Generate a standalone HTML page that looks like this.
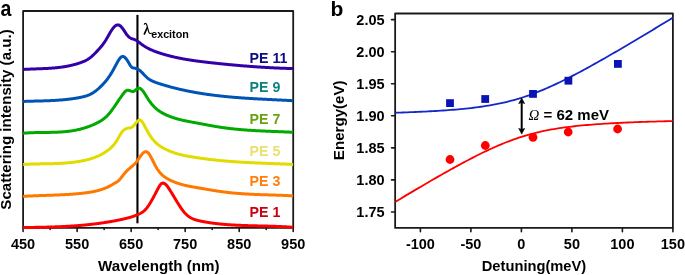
<!DOCTYPE html>
<html><head><meta charset="utf-8"><style>
html,body{margin:0;padding:0;background:#fff;width:685px;height:275px;overflow:hidden}
svg{position:absolute;left:0;top:0;will-change:transform}
text{font-family:"Liberation Sans",sans-serif;font-weight:bold}
</style></head><body>
<svg width="685" height="275" viewBox="0 0 685 275" xmlns="http://www.w3.org/2000/svg">
<defs><clipPath id="cl"><rect x="23.10" y="0.00" width="270.10" height="275.00"/></clipPath>
<clipPath id="cr"><rect x="395.15" y="0.00" width="277.75" height="275.00"/></clipPath></defs>

<rect x="23.10" y="11.00" width="270.10" height="216.90" fill="none" stroke="#1a1a1a" stroke-width="1.8" stroke-linejoin="round"/>
<path d="M23.10,227.90 V231.50 M50.11,227.90 V229.50 M77.12,227.90 V231.50 M104.13,227.90 V229.50 M131.14,227.90 V231.50 M158.15,227.90 V229.50 M185.16,227.90 V231.50 M212.17,227.90 V229.50 M239.18,227.90 V231.50 M266.19,227.90 V229.50 M293.20,227.90 V231.50" stroke="#1a1a1a" stroke-width="1.6" stroke-linecap="round" fill="none"/>
<text x="23.10" y="249.2" font-size="14.5" text-anchor="middle">450</text>
<text x="77.12" y="249.2" font-size="14.5" text-anchor="middle">550</text>
<text x="131.14" y="249.2" font-size="14.5" text-anchor="middle">650</text>
<text x="185.16" y="249.2" font-size="14.5" text-anchor="middle">750</text>
<text x="239.18" y="249.2" font-size="14.5" text-anchor="middle">850</text>
<text x="293.20" y="249.2" font-size="14.5" text-anchor="middle">950</text>
<line x1="137.45" y1="14.9" x2="137.45" y2="223.3" stroke="#000" stroke-width="2.1"/>
<g clip-path="url(#cl)" fill="none" stroke-width="3.0" stroke-linejoin="round">
<path d="M22.60,69.46 L23.10,69.45 L23.60,69.42 L24.10,69.39 L24.60,69.37 L25.10,69.34 L25.60,69.31 L26.10,69.29 L26.60,69.26 L27.10,69.24 L27.60,69.21 L28.10,69.19 L28.60,69.17 L29.10,69.15 L29.60,69.13 L30.10,69.10 L30.60,69.08 L31.10,69.07 L31.60,69.05 L32.10,69.03 L32.60,69.01 L33.10,68.99 L33.60,68.97 L34.10,68.95 L34.60,68.94 L35.10,68.92 L35.60,68.90 L36.10,68.88 L36.60,68.87 L37.10,68.85 L37.60,68.83 L38.10,68.82 L38.60,68.80 L39.10,68.78 L39.60,68.76 L40.10,68.74 L40.60,68.72 L41.10,68.70 L41.60,68.69 L42.10,68.67 L42.60,68.64 L43.10,68.62 L43.60,68.60 L44.10,68.58 L44.60,68.56 L45.10,68.53 L45.60,68.51 L46.10,68.49 L46.60,68.46 L47.10,68.43 L47.60,68.41 L48.10,68.38 L48.60,68.35 L49.10,68.32 L49.60,68.29 L50.10,68.25 L50.60,68.22 L51.10,68.19 L51.60,68.15 L52.10,68.11 L52.60,68.07 L53.10,68.03 L53.60,67.99 L54.10,67.95 L54.60,67.91 L55.10,67.86 L55.60,67.81 L56.10,67.77 L56.60,67.72 L57.10,67.66 L57.60,67.61 L58.10,67.56 L58.60,67.50 L59.10,67.44 L59.60,67.38 L60.10,67.32 L60.60,67.25 L61.10,67.19 L61.60,67.12 L62.10,67.05 L62.60,66.98 L63.10,66.90 L63.60,66.82 L64.10,66.74 L64.60,66.66 L65.10,66.58 L65.60,66.49 L66.10,66.41 L66.60,66.32 L67.10,66.22 L67.60,66.13 L68.10,66.03 L68.60,65.93 L69.10,65.83 L69.60,65.72 L70.10,65.61 L70.60,65.50 L71.10,65.39 L71.60,65.27 L72.10,65.15 L72.60,65.03 L73.10,64.90 L73.60,64.77 L74.10,64.64 L74.60,64.51 L75.10,64.37 L75.60,64.23 L76.10,64.09 L76.60,63.94 L77.10,63.79 L77.60,63.63 L78.10,63.48 L78.60,63.32 L79.10,63.15 L79.60,62.99 L80.10,62.82 L80.60,62.64 L81.10,62.46 L81.60,62.28 L82.10,62.09 L82.60,61.89 L83.10,61.69 L83.60,61.48 L84.10,61.26 L84.60,61.04 L85.10,60.80 L85.60,60.55 L86.10,60.30 L86.60,60.03 L87.10,59.74 L87.60,59.45 L88.10,59.14 L88.60,58.82 L89.10,58.48 L89.60,58.13 L90.10,57.76 L90.60,57.37 L91.10,56.97 L91.60,56.55 L92.10,56.11 L92.60,55.66 L93.10,55.19 L93.60,54.72 L94.10,54.23 L94.60,53.73 L95.10,53.22 L95.60,52.70 L96.10,52.18 L96.60,51.66 L97.10,51.13 L97.60,50.60 L98.10,50.06 L98.60,49.52 L99.10,48.97 L99.60,48.42 L100.10,47.85 L100.60,47.27 L101.10,46.68 L101.60,46.07 L102.10,45.45 L102.60,44.81 L103.10,44.15 L103.60,43.47 L104.10,42.76 L104.60,42.03 L105.10,41.27 L105.60,40.49 L106.10,39.68 L106.60,38.84 L107.10,37.97 L107.60,37.09 L108.10,36.20 L108.60,35.31 L109.10,34.42 L109.60,33.54 L110.10,32.68 L110.60,31.84 L111.10,31.03 L111.60,30.25 L112.10,29.51 L112.60,28.80 L113.10,28.15 L113.60,27.54 L114.10,26.98 L114.60,26.48 L115.10,26.04 L115.60,25.66 L116.10,25.35 L116.60,25.12 L117.10,24.96 L117.60,24.88 L118.10,24.89 L118.60,24.98 L119.10,25.17 L119.60,25.43 L120.10,25.77 L120.60,26.19 L121.10,26.67 L121.60,27.22 L122.10,27.82 L122.60,28.47 L123.10,29.17 L123.60,29.90 L124.10,30.64 L124.60,31.40 L125.10,32.15 L125.60,32.90 L126.10,33.62 L126.60,34.32 L127.10,34.98 L127.60,35.59 L128.10,36.14 L128.60,36.64 L129.10,37.07 L129.60,37.45 L130.10,37.78 L130.60,38.07 L131.10,38.32 L131.60,38.54 L132.10,38.74 L132.60,38.92 L133.10,39.08 L133.60,39.24 L134.10,39.40 L134.60,39.57 L135.10,39.77 L135.60,39.99 L136.10,40.24 L136.60,40.53 L137.10,40.86 L137.60,41.21 L138.10,41.59 L138.60,41.98 L139.10,42.37 L139.60,42.77 L140.10,43.17 L140.60,43.55 L141.10,43.93 L141.60,44.30 L142.10,44.65 L142.60,45.00 L143.10,45.34 L143.60,45.68 L144.10,46.00 L144.60,46.32 L145.10,46.62 L145.60,46.92 L146.10,47.22 L146.60,47.50 L147.10,47.78 L147.60,48.05 L148.10,48.32 L148.60,48.58 L149.10,48.83 L149.60,49.08 L150.10,49.32 L150.60,49.55 L151.10,49.78 L151.60,50.00 L152.10,50.22 L152.60,50.44 L153.10,50.64 L153.60,50.85 L154.10,51.05 L154.60,51.24 L155.10,51.44 L155.60,51.62 L156.10,51.81 L156.60,51.99 L157.10,52.17 L157.60,52.34 L158.10,52.51 L158.60,52.68 L159.10,52.85 L159.60,53.02 L160.10,53.18 L160.60,53.34 L161.10,53.50 L161.60,53.65 L162.10,53.81 L162.60,53.96 L163.10,54.11 L163.60,54.26 L164.10,54.41 L164.60,54.56 L165.10,54.70 L165.60,54.84 L166.10,54.98 L166.60,55.12 L167.10,55.26 L167.60,55.39 L168.10,55.53 L168.60,55.66 L169.10,55.79 L169.60,55.92 L170.10,56.05 L170.60,56.17 L171.10,56.30 L171.60,56.42 L172.10,56.54 L172.60,56.66 L173.10,56.78 L173.60,56.90 L174.10,57.01 L174.60,57.12 L175.10,57.24 L175.60,57.35 L176.10,57.46 L176.60,57.57 L177.10,57.67 L177.60,57.78 L178.10,57.88 L178.60,57.99 L179.10,58.09 L179.60,58.19 L180.10,58.29 L180.60,58.39 L181.10,58.48 L181.60,58.58 L182.10,58.67 L182.60,58.77 L183.10,58.86 L183.60,58.95 L184.10,59.04 L184.60,59.13 L185.10,59.22 L185.60,59.30 L186.10,59.39 L186.60,59.47 L187.10,59.56 L187.60,59.64 L188.10,59.72 L188.60,59.80 L189.10,59.88 L189.60,59.96 L190.10,60.04 L190.60,60.11 L191.10,60.19 L191.60,60.27 L192.10,60.34 L192.60,60.41 L193.10,60.49 L193.60,60.56 L194.10,60.63 L194.60,60.70 L195.10,60.77 L195.60,60.84 L196.10,60.91 L196.60,60.98 L197.10,61.04 L197.60,61.11 L198.10,61.18 L198.60,61.24 L199.10,61.31 L199.60,61.37 L200.10,61.43 L200.60,61.50 L201.10,61.56 L201.60,61.62 L202.10,61.68 L202.60,61.74 L203.10,61.81 L203.60,61.87 L204.10,61.93 L204.60,61.98 L205.10,62.04 L205.60,62.10 L206.10,62.16 L206.60,62.22 L207.10,62.28 L207.60,62.33 L208.10,62.39 L208.60,62.45 L209.10,62.50 L209.60,62.56 L210.10,62.62 L210.60,62.67 L211.10,62.73 L211.60,62.78 L212.10,62.84 L212.60,62.89 L213.10,62.95 L213.60,63.00 L214.10,63.06 L214.60,63.11 L215.10,63.17 L215.60,63.22 L216.10,63.27 L216.60,63.33 L217.10,63.38 L217.60,63.43 L218.10,63.49 L218.60,63.54 L219.10,63.59 L219.60,63.64 L220.10,63.69 L220.60,63.75 L221.10,63.80 L221.60,63.85 L222.10,63.90 L222.60,63.95 L223.10,64.00 L223.60,64.05 L224.10,64.10 L224.60,64.15 L225.10,64.20 L225.60,64.25 L226.10,64.30 L226.60,64.35 L227.10,64.40 L227.60,64.45 L228.10,64.50 L228.60,64.54 L229.10,64.59 L229.60,64.64 L230.10,64.69 L230.60,64.73 L231.10,64.78 L231.60,64.83 L232.10,64.87 L232.60,64.92 L233.10,64.97 L233.60,65.01 L234.10,65.06 L234.60,65.10 L235.10,65.15 L235.60,65.19 L236.10,65.24 L236.60,65.28 L237.10,65.33 L237.60,65.37 L238.10,65.42 L238.60,65.46 L239.10,65.50 L239.60,65.54 L240.10,65.59 L240.60,65.63 L241.10,65.67 L241.60,65.71 L242.10,65.76 L242.60,65.80 L243.10,65.84 L243.60,65.88 L244.10,65.92 L244.60,65.96 L245.10,66.00 L245.60,66.04 L246.10,66.08 L246.60,66.12 L247.10,66.16 L247.60,66.20 L248.10,66.24 L248.60,66.28 L249.10,66.31 L249.60,66.35 L250.10,66.39 L250.60,66.43 L251.10,66.46 L251.60,66.50 L252.10,66.54 L252.60,66.57 L253.10,66.61 L253.60,66.65 L254.10,66.68 L254.60,66.72 L255.10,66.75 L255.60,66.79 L256.10,66.82 L256.60,66.86 L257.10,66.89 L257.60,66.92 L258.10,66.96 L258.60,66.99 L259.10,67.02 L259.60,67.06 L260.10,67.09 L260.60,67.12 L261.10,67.15 L261.60,67.18 L262.10,67.21 L262.60,67.25 L263.10,67.28 L263.60,67.31 L264.10,67.34 L264.60,67.37 L265.10,67.40 L265.60,67.43 L266.10,67.45 L266.60,67.48 L267.10,67.51 L267.60,67.54 L268.10,67.57 L268.60,67.59 L269.10,67.62 L269.60,67.65 L270.10,67.68 L270.60,67.70 L271.10,67.73 L271.60,67.75 L272.10,67.78 L272.60,67.80 L273.10,67.83 L273.60,67.85 L274.10,67.88 L274.60,67.90 L275.10,67.93 L275.60,67.95 L276.10,67.97 L276.60,68.00 L277.10,68.02 L277.60,68.04 L278.10,68.06 L278.60,68.08 L279.10,68.10 L279.60,68.13 L280.10,68.15 L280.60,68.17 L281.10,68.19 L281.60,68.21 L282.10,68.23 L282.60,68.25 L283.10,68.26 L283.60,68.28 L284.10,68.30 L284.60,68.32 L285.10,68.34 L285.60,68.35 L286.10,68.37 L286.60,68.39 L287.10,68.40 L287.60,68.42 L288.10,68.43 L288.60,68.45 L289.10,68.47 L289.60,68.48 L290.10,68.49 L290.60,68.51 L291.10,68.52 L291.60,68.54 L292.10,68.55 L292.60,68.56 L293.10,68.57 L293.60,68.58" stroke="#3300aa"/>
<path d="M22.60,101.47 L23.10,101.47 L23.60,101.45 L24.10,101.43 L24.60,101.41 L25.10,101.39 L25.60,101.37 L26.10,101.36 L26.60,101.34 L27.10,101.32 L27.60,101.31 L28.10,101.29 L28.60,101.28 L29.10,101.26 L29.60,101.25 L30.10,101.23 L30.60,101.22 L31.10,101.20 L31.60,101.19 L32.10,101.18 L32.60,101.16 L33.10,101.15 L33.60,101.14 L34.10,101.12 L34.60,101.11 L35.10,101.10 L35.60,101.09 L36.10,101.07 L36.60,101.06 L37.10,101.05 L37.60,101.03 L38.10,101.02 L38.60,101.01 L39.10,100.99 L39.60,100.98 L40.10,100.97 L40.60,100.95 L41.10,100.94 L41.60,100.93 L42.10,100.91 L42.60,100.90 L43.10,100.88 L43.60,100.87 L44.10,100.85 L44.60,100.84 L45.10,100.82 L45.60,100.80 L46.10,100.79 L46.60,100.77 L47.10,100.75 L47.60,100.73 L48.10,100.71 L48.60,100.69 L49.10,100.67 L49.60,100.65 L50.10,100.63 L50.60,100.61 L51.10,100.59 L51.60,100.57 L52.10,100.54 L52.60,100.52 L53.10,100.49 L53.60,100.47 L54.10,100.44 L54.60,100.41 L55.10,100.38 L55.60,100.35 L56.10,100.32 L56.60,100.29 L57.10,100.26 L57.60,100.23 L58.10,100.19 L58.60,100.16 L59.10,100.12 L59.60,100.09 L60.10,100.05 L60.60,100.01 L61.10,99.97 L61.60,99.93 L62.10,99.89 L62.60,99.85 L63.10,99.80 L63.60,99.76 L64.10,99.71 L64.60,99.66 L65.10,99.61 L65.60,99.56 L66.10,99.51 L66.60,99.46 L67.10,99.40 L67.60,99.35 L68.10,99.29 L68.60,99.23 L69.10,99.17 L69.60,99.11 L70.10,99.04 L70.60,98.98 L71.10,98.91 L71.60,98.85 L72.10,98.78 L72.60,98.71 L73.10,98.63 L73.60,98.56 L74.10,98.48 L74.60,98.41 L75.10,98.33 L75.60,98.25 L76.10,98.17 L76.60,98.08 L77.10,98.00 L77.60,97.91 L78.10,97.82 L78.60,97.73 L79.10,97.63 L79.60,97.54 L80.10,97.44 L80.60,97.34 L81.10,97.24 L81.60,97.13 L82.10,97.03 L82.60,96.91 L83.10,96.80 L83.60,96.68 L84.10,96.55 L84.60,96.41 L85.10,96.27 L85.60,96.13 L86.10,95.97 L86.60,95.81 L87.10,95.64 L87.60,95.46 L88.10,95.27 L88.60,95.07 L89.10,94.86 L89.60,94.63 L90.10,94.40 L90.60,94.16 L91.10,93.90 L91.60,93.63 L92.10,93.34 L92.60,93.04 L93.10,92.73 L93.60,92.41 L94.10,92.07 L94.60,91.72 L95.10,91.36 L95.60,90.99 L96.10,90.60 L96.60,90.20 L97.10,89.79 L97.60,89.38 L98.10,88.95 L98.60,88.51 L99.10,88.05 L99.60,87.59 L100.10,87.12 L100.60,86.65 L101.10,86.16 L101.60,85.66 L102.10,85.15 L102.60,84.64 L103.10,84.12 L103.60,83.58 L104.10,83.04 L104.60,82.48 L105.10,81.91 L105.60,81.32 L106.10,80.72 L106.60,80.10 L107.10,79.46 L107.60,78.80 L108.10,78.13 L108.60,77.43 L109.10,76.71 L109.60,75.96 L110.10,75.19 L110.60,74.40 L111.10,73.59 L111.60,72.75 L112.10,71.90 L112.60,71.03 L113.10,70.15 L113.60,69.25 L114.10,68.34 L114.60,67.42 L115.10,66.49 L115.60,65.55 L116.10,64.60 L116.60,63.67 L117.10,62.74 L117.60,61.84 L118.10,60.98 L118.60,60.16 L119.10,59.40 L119.60,58.70 L120.10,58.08 L120.60,57.54 L121.10,57.09 L121.60,56.75 L122.10,56.52 L122.60,56.42 L123.10,56.45 L123.60,56.59 L124.10,56.84 L124.60,57.20 L125.10,57.64 L125.60,58.17 L126.10,58.77 L126.60,59.44 L127.10,60.17 L127.60,60.94 L128.10,61.75 L128.60,62.59 L129.10,63.45 L129.60,64.30 L130.10,65.12 L130.60,65.87 L131.10,66.53 L131.60,67.08 L132.10,67.49 L132.60,67.75 L133.10,67.90 L133.60,67.98 L134.10,68.05 L134.60,68.14 L135.10,68.24 L135.60,68.36 L136.10,68.51 L136.60,68.68 L137.10,68.88 L137.60,69.11 L138.10,69.37 L138.60,69.66 L139.10,69.98 L139.60,70.33 L140.10,70.73 L140.60,71.15 L141.10,71.61 L141.60,72.10 L142.10,72.60 L142.60,73.12 L143.10,73.65 L143.60,74.19 L144.10,74.73 L144.60,75.26 L145.10,75.78 L145.60,76.28 L146.10,76.77 L146.60,77.23 L147.10,77.66 L147.60,78.08 L148.10,78.47 L148.60,78.84 L149.10,79.19 L149.60,79.52 L150.10,79.83 L150.60,80.13 L151.10,80.41 L151.60,80.68 L152.10,80.93 L152.60,81.17 L153.10,81.40 L153.60,81.62 L154.10,81.83 L154.60,82.02 L155.10,82.21 L155.60,82.40 L156.10,82.57 L156.60,82.75 L157.10,82.92 L157.60,83.08 L158.10,83.24 L158.60,83.41 L159.10,83.57 L159.60,83.73 L160.10,83.89 L160.60,84.04 L161.10,84.20 L161.60,84.36 L162.10,84.51 L162.60,84.66 L163.10,84.82 L163.60,84.97 L164.10,85.12 L164.60,85.26 L165.10,85.41 L165.60,85.56 L166.10,85.70 L166.60,85.85 L167.10,85.99 L167.60,86.13 L168.10,86.27 L168.60,86.41 L169.10,86.55 L169.60,86.69 L170.10,86.83 L170.60,86.96 L171.10,87.10 L171.60,87.23 L172.10,87.36 L172.60,87.49 L173.10,87.62 L173.60,87.75 L174.10,87.88 L174.60,88.01 L175.10,88.13 L175.60,88.26 L176.10,88.38 L176.60,88.51 L177.10,88.63 L177.60,88.75 L178.10,88.87 L178.60,88.99 L179.10,89.11 L179.60,89.22 L180.10,89.34 L180.60,89.46 L181.10,89.57 L181.60,89.68 L182.10,89.80 L182.60,89.91 L183.10,90.02 L183.60,90.13 L184.10,90.24 L184.60,90.34 L185.10,90.45 L185.60,90.56 L186.10,90.66 L186.60,90.77 L187.10,90.87 L187.60,90.97 L188.10,91.07 L188.60,91.17 L189.10,91.27 L189.60,91.37 L190.10,91.47 L190.60,91.57 L191.10,91.66 L191.60,91.76 L192.10,91.85 L192.60,91.95 L193.10,92.04 L193.60,92.13 L194.10,92.22 L194.60,92.31 L195.10,92.40 L195.60,92.49 L196.10,92.58 L196.60,92.67 L197.10,92.75 L197.60,92.84 L198.10,92.93 L198.60,93.01 L199.10,93.09 L199.60,93.17 L200.10,93.26 L200.60,93.34 L201.10,93.42 L201.60,93.50 L202.10,93.58 L202.60,93.65 L203.10,93.73 L203.60,93.81 L204.10,93.88 L204.60,93.96 L205.10,94.03 L205.60,94.11 L206.10,94.18 L206.60,94.25 L207.10,94.32 L207.60,94.40 L208.10,94.47 L208.60,94.53 L209.10,94.60 L209.60,94.67 L210.10,94.74 L210.60,94.81 L211.10,94.87 L211.60,94.94 L212.10,95.00 L212.60,95.07 L213.10,95.13 L213.60,95.19 L214.10,95.26 L214.60,95.32 L215.10,95.38 L215.60,95.44 L216.10,95.50 L216.60,95.56 L217.10,95.62 L217.60,95.68 L218.10,95.73 L218.60,95.79 L219.10,95.85 L219.60,95.90 L220.10,95.96 L220.60,96.01 L221.10,96.07 L221.60,96.12 L222.10,96.18 L222.60,96.23 L223.10,96.28 L223.60,96.33 L224.10,96.38 L224.60,96.43 L225.10,96.48 L225.60,96.53 L226.10,96.58 L226.60,96.63 L227.10,96.68 L227.60,96.73 L228.10,96.77 L228.60,96.82 L229.10,96.87 L229.60,96.91 L230.10,96.96 L230.60,97.00 L231.10,97.05 L231.60,97.09 L232.10,97.13 L232.60,97.18 L233.10,97.22 L233.60,97.26 L234.10,97.30 L234.60,97.34 L235.10,97.39 L235.60,97.43 L236.10,97.47 L236.60,97.51 L237.10,97.55 L237.60,97.58 L238.10,97.62 L238.60,97.66 L239.10,97.70 L239.60,97.74 L240.10,97.77 L240.60,97.81 L241.10,97.85 L241.60,97.88 L242.10,97.92 L242.60,97.95 L243.10,97.99 L243.60,98.02 L244.10,98.06 L244.60,98.09 L245.10,98.13 L245.60,98.16 L246.10,98.19 L246.60,98.23 L247.10,98.26 L247.60,98.29 L248.10,98.32 L248.60,98.35 L249.10,98.39 L249.60,98.42 L250.10,98.45 L250.60,98.48 L251.10,98.51 L251.60,98.54 L252.10,98.57 L252.60,98.60 L253.10,98.63 L253.60,98.66 L254.10,98.69 L254.60,98.72 L255.10,98.75 L255.60,98.77 L256.10,98.80 L256.60,98.83 L257.10,98.86 L257.60,98.89 L258.10,98.91 L258.60,98.94 L259.10,98.97 L259.60,99.00 L260.10,99.02 L260.60,99.05 L261.10,99.08 L261.60,99.10 L262.10,99.13 L262.60,99.15 L263.10,99.18 L263.60,99.21 L264.10,99.23 L264.60,99.26 L265.10,99.28 L265.60,99.31 L266.10,99.33 L266.60,99.36 L267.10,99.39 L267.60,99.41 L268.10,99.44 L268.60,99.46 L269.10,99.49 L269.60,99.51 L270.10,99.54 L270.60,99.56 L271.10,99.59 L271.60,99.61 L272.10,99.63 L272.60,99.66 L273.10,99.68 L273.60,99.71 L274.10,99.73 L274.60,99.76 L275.10,99.78 L275.60,99.81 L276.10,99.83 L276.60,99.86 L277.10,99.88 L277.60,99.91 L278.10,99.93 L278.60,99.96 L279.10,99.98 L279.60,100.00 L280.10,100.03 L280.60,100.05 L281.10,100.08 L281.60,100.10 L282.10,100.13 L282.60,100.15 L283.10,100.18 L283.60,100.21 L284.10,100.23 L284.60,100.26 L285.10,100.28 L285.60,100.31 L286.10,100.33 L286.60,100.36 L287.10,100.38 L287.60,100.41 L288.10,100.44 L288.60,100.46 L289.10,100.49 L289.60,100.52 L290.10,100.54 L290.60,100.57 L291.10,100.60 L291.60,100.63 L292.10,100.65 L292.60,100.68 L293.10,100.71 L293.60,100.71" stroke="#0055b4"/>
<path d="M22.60,133.24 L23.10,133.23 L23.60,133.19 L24.10,133.14 L24.60,133.10 L25.10,133.07 L25.60,133.03 L26.10,133.00 L26.60,132.96 L27.10,132.93 L27.60,132.90 L28.10,132.88 L28.60,132.85 L29.10,132.82 L29.60,132.80 L30.10,132.78 L30.60,132.75 L31.10,132.73 L31.60,132.71 L32.10,132.70 L32.60,132.68 L33.10,132.66 L33.60,132.65 L34.10,132.63 L34.60,132.62 L35.10,132.61 L35.60,132.59 L36.10,132.58 L36.60,132.57 L37.10,132.56 L37.60,132.55 L38.10,132.54 L38.60,132.54 L39.10,132.53 L39.60,132.52 L40.10,132.51 L40.60,132.51 L41.10,132.50 L41.60,132.49 L42.10,132.49 L42.60,132.48 L43.10,132.48 L43.60,132.47 L44.10,132.47 L44.60,132.46 L45.10,132.45 L45.60,132.45 L46.10,132.44 L46.60,132.44 L47.10,132.43 L47.60,132.42 L48.10,132.42 L48.60,132.41 L49.10,132.40 L49.60,132.39 L50.10,132.38 L50.60,132.37 L51.10,132.36 L51.60,132.35 L52.10,132.34 L52.60,132.33 L53.10,132.31 L53.60,132.30 L54.10,132.29 L54.60,132.27 L55.10,132.25 L55.60,132.24 L56.10,132.22 L56.60,132.20 L57.10,132.18 L57.60,132.15 L58.10,132.13 L58.60,132.11 L59.10,132.08 L59.60,132.05 L60.10,132.02 L60.60,131.99 L61.10,131.96 L61.60,131.93 L62.10,131.89 L62.60,131.86 L63.10,131.82 L63.60,131.78 L64.10,131.74 L64.60,131.69 L65.10,131.65 L65.60,131.60 L66.10,131.55 L66.60,131.50 L67.10,131.44 L67.60,131.39 L68.10,131.33 L68.60,131.27 L69.10,131.21 L69.60,131.15 L70.10,131.08 L70.60,131.01 L71.10,130.94 L71.60,130.87 L72.10,130.79 L72.60,130.71 L73.10,130.63 L73.60,130.54 L74.10,130.46 L74.60,130.37 L75.10,130.28 L75.60,130.18 L76.10,130.08 L76.60,129.98 L77.10,129.88 L77.60,129.77 L78.10,129.66 L78.60,129.55 L79.10,129.43 L79.60,129.32 L80.10,129.19 L80.60,129.07 L81.10,128.94 L81.60,128.81 L82.10,128.67 L82.60,128.53 L83.10,128.39 L83.60,128.25 L84.10,128.10 L84.60,127.94 L85.10,127.79 L85.60,127.63 L86.10,127.46 L86.60,127.30 L87.10,127.13 L87.60,126.95 L88.10,126.77 L88.60,126.59 L89.10,126.41 L89.60,126.22 L90.10,126.02 L90.60,125.83 L91.10,125.63 L91.60,125.42 L92.10,125.22 L92.60,125.00 L93.10,124.79 L93.60,124.57 L94.10,124.35 L94.60,124.12 L95.10,123.89 L95.60,123.65 L96.10,123.42 L96.60,123.17 L97.10,122.93 L97.60,122.67 L98.10,122.41 L98.60,122.15 L99.10,121.87 L99.60,121.59 L100.10,121.30 L100.60,121.00 L101.10,120.69 L101.60,120.37 L102.10,120.03 L102.60,119.68 L103.10,119.32 L103.60,118.94 L104.10,118.55 L104.60,118.15 L105.10,117.72 L105.60,117.28 L106.10,116.83 L106.60,116.35 L107.10,115.85 L107.60,115.34 L108.10,114.80 L108.60,114.24 L109.10,113.66 L109.60,113.07 L110.10,112.45 L110.60,111.82 L111.10,111.17 L111.60,110.51 L112.10,109.84 L112.60,109.15 L113.10,108.46 L113.60,107.75 L114.10,107.03 L114.60,106.31 L115.10,105.58 L115.60,104.85 L116.10,104.11 L116.60,103.37 L117.10,102.63 L117.60,101.89 L118.10,101.15 L118.60,100.41 L119.10,99.67 L119.60,98.94 L120.10,98.21 L120.60,97.49 L121.10,96.77 L121.60,96.07 L122.10,95.37 L122.60,94.69 L123.10,94.02 L123.60,93.36 L124.10,92.73 L124.60,92.13 L125.10,91.59 L125.60,91.12 L126.10,90.73 L126.60,90.45 L127.10,90.28 L127.60,90.22 L128.10,90.25 L128.60,90.34 L129.10,90.48 L129.60,90.65 L130.10,90.83 L130.60,91.00 L131.10,91.17 L131.60,91.31 L132.10,91.41 L132.60,91.45 L133.10,91.43 L133.60,91.32 L134.10,91.12 L134.60,90.81 L135.10,90.44 L135.60,90.02 L136.10,89.58 L136.60,89.15 L137.10,88.76 L137.60,88.45 L138.10,88.22 L138.60,88.11 L139.10,88.11 L139.60,88.22 L140.10,88.42 L140.60,88.71 L141.10,89.09 L141.60,89.54 L142.10,90.06 L142.60,90.64 L143.10,91.28 L143.60,91.97 L144.10,92.70 L144.60,93.46 L145.10,94.25 L145.60,95.06 L146.10,95.87 L146.60,96.69 L147.10,97.51 L147.60,98.31 L148.10,99.10 L148.60,99.85 L149.10,100.59 L149.60,101.30 L150.10,101.98 L150.60,102.65 L151.10,103.29 L151.60,103.91 L152.10,104.50 L152.60,105.08 L153.10,105.64 L153.60,106.17 L154.10,106.69 L154.60,107.19 L155.10,107.67 L155.60,108.13 L156.10,108.58 L156.60,109.01 L157.10,109.43 L157.60,109.83 L158.10,110.21 L158.60,110.58 L159.10,110.94 L159.60,111.29 L160.10,111.62 L160.60,111.94 L161.10,112.25 L161.60,112.55 L162.10,112.84 L162.60,113.12 L163.10,113.39 L163.60,113.65 L164.10,113.91 L164.60,114.16 L165.10,114.40 L165.60,114.64 L166.10,114.87 L166.60,115.09 L167.10,115.31 L167.60,115.53 L168.10,115.74 L168.60,115.95 L169.10,116.15 L169.60,116.35 L170.10,116.54 L170.60,116.73 L171.10,116.91 L171.60,117.09 L172.10,117.27 L172.60,117.44 L173.10,117.61 L173.60,117.78 L174.10,117.94 L174.60,118.10 L175.10,118.26 L175.60,118.41 L176.10,118.56 L176.60,118.70 L177.10,118.84 L177.60,118.98 L178.10,119.12 L178.60,119.25 L179.10,119.39 L179.60,119.51 L180.10,119.64 L180.60,119.76 L181.10,119.89 L181.60,120.00 L182.10,120.12 L182.60,120.24 L183.10,120.35 L183.60,120.46 L184.10,120.57 L184.60,120.67 L185.10,120.78 L185.60,120.88 L186.10,120.99 L186.60,121.09 L187.10,121.19 L187.60,121.29 L188.10,121.38 L188.60,121.48 L189.10,121.58 L189.60,121.67 L190.10,121.76 L190.60,121.86 L191.10,121.95 L191.60,122.04 L192.10,122.13 L192.60,122.23 L193.10,122.32 L193.60,122.41 L194.10,122.50 L194.60,122.59 L195.10,122.68 L195.60,122.77 L196.10,122.87 L196.60,122.96 L197.10,123.05 L197.60,123.14 L198.10,123.24 L198.60,123.33 L199.10,123.42 L199.60,123.52 L200.10,123.61 L200.60,123.70 L201.10,123.80 L201.60,123.89 L202.10,123.99 L202.60,124.08 L203.10,124.18 L203.60,124.27 L204.10,124.36 L204.60,124.46 L205.10,124.55 L205.60,124.65 L206.10,124.74 L206.60,124.83 L207.10,124.93 L207.60,125.02 L208.10,125.11 L208.60,125.21 L209.10,125.30 L209.60,125.39 L210.10,125.48 L210.60,125.57 L211.10,125.66 L211.60,125.75 L212.10,125.84 L212.60,125.93 L213.10,126.02 L213.60,126.11 L214.10,126.19 L214.60,126.28 L215.10,126.36 L215.60,126.45 L216.10,126.53 L216.60,126.62 L217.10,126.70 L217.60,126.78 L218.10,126.86 L218.60,126.94 L219.10,127.02 L219.60,127.10 L220.10,127.18 L220.60,127.25 L221.10,127.33 L221.60,127.40 L222.10,127.48 L222.60,127.55 L223.10,127.62 L223.60,127.69 L224.10,127.76 L224.60,127.83 L225.10,127.90 L225.60,127.96 L226.10,128.03 L226.60,128.09 L227.10,128.16 L227.60,128.22 L228.10,128.28 L228.60,128.34 L229.10,128.41 L229.60,128.46 L230.10,128.52 L230.60,128.58 L231.10,128.64 L231.60,128.70 L232.10,128.75 L232.60,128.81 L233.10,128.86 L233.60,128.91 L234.10,128.97 L234.60,129.02 L235.10,129.07 L235.60,129.12 L236.10,129.17 L236.60,129.22 L237.10,129.27 L237.60,129.31 L238.10,129.36 L238.60,129.41 L239.10,129.45 L239.60,129.50 L240.10,129.54 L240.60,129.59 L241.10,129.63 L241.60,129.67 L242.10,129.71 L242.60,129.75 L243.10,129.79 L243.60,129.83 L244.10,129.87 L244.60,129.91 L245.10,129.95 L245.60,129.99 L246.10,130.02 L246.60,130.06 L247.10,130.10 L247.60,130.13 L248.10,130.17 L248.60,130.20 L249.10,130.23 L249.60,130.27 L250.10,130.30 L250.60,130.33 L251.10,130.37 L251.60,130.40 L252.10,130.43 L252.60,130.46 L253.10,130.49 L253.60,130.52 L254.10,130.55 L254.60,130.58 L255.10,130.60 L255.60,130.63 L256.10,130.66 L256.60,130.69 L257.10,130.72 L257.60,130.74 L258.10,130.77 L258.60,130.79 L259.10,130.82 L259.60,130.85 L260.10,130.87 L260.60,130.90 L261.10,130.92 L261.60,130.94 L262.10,130.97 L262.60,130.99 L263.10,131.01 L263.60,131.04 L264.10,131.06 L264.60,131.08 L265.10,131.11 L265.60,131.13 L266.10,131.15 L266.60,131.17 L267.10,131.19 L267.60,131.22 L268.10,131.24 L268.60,131.26 L269.10,131.28 L269.60,131.30 L270.10,131.32 L270.60,131.34 L271.10,131.36 L271.60,131.38 L272.10,131.40 L272.60,131.42 L273.10,131.44 L273.60,131.46 L274.10,131.48 L274.60,131.50 L275.10,131.52 L275.60,131.54 L276.10,131.56 L276.60,131.58 L277.10,131.60 L277.60,131.62 L278.10,131.64 L278.60,131.66 L279.10,131.68 L279.60,131.70 L280.10,131.72 L280.60,131.74 L281.10,131.76 L281.60,131.78 L282.10,131.80 L282.60,131.82 L283.10,131.84 L283.60,131.86 L284.10,131.88 L284.60,131.90 L285.10,131.92 L285.60,131.94 L286.10,131.97 L286.60,131.99 L287.10,132.01 L287.60,132.03 L288.10,132.05 L288.60,132.07 L289.10,132.10 L289.60,132.12 L290.10,132.14 L290.60,132.16 L291.10,132.19 L291.60,132.21 L292.10,132.23 L292.60,132.26 L293.10,132.28 L293.60,132.29" stroke="#00aa00"/>
<path d="M22.60,164.41 L23.10,164.40 L23.60,164.38 L24.10,164.35 L24.60,164.32 L25.10,164.30 L25.60,164.27 L26.10,164.25 L26.60,164.23 L27.10,164.20 L27.60,164.18 L28.10,164.16 L28.60,164.14 L29.10,164.13 L29.60,164.11 L30.10,164.09 L30.60,164.08 L31.10,164.06 L31.60,164.05 L32.10,164.03 L32.60,164.02 L33.10,164.01 L33.60,163.99 L34.10,163.98 L34.60,163.97 L35.10,163.96 L35.60,163.95 L36.10,163.94 L36.60,163.93 L37.10,163.92 L37.60,163.91 L38.10,163.90 L38.60,163.89 L39.10,163.89 L39.60,163.88 L40.10,163.87 L40.60,163.86 L41.10,163.85 L41.60,163.85 L42.10,163.84 L42.60,163.83 L43.10,163.82 L43.60,163.82 L44.10,163.81 L44.60,163.80 L45.10,163.79 L45.60,163.79 L46.10,163.78 L46.60,163.77 L47.10,163.76 L47.60,163.75 L48.10,163.74 L48.60,163.73 L49.10,163.72 L49.60,163.71 L50.10,163.70 L50.60,163.69 L51.10,163.68 L51.60,163.67 L52.10,163.65 L52.60,163.64 L53.10,163.63 L53.60,163.61 L54.10,163.60 L54.60,163.58 L55.10,163.57 L55.60,163.55 L56.10,163.53 L56.60,163.51 L57.10,163.49 L57.60,163.47 L58.10,163.45 L58.60,163.43 L59.10,163.41 L59.60,163.38 L60.10,163.36 L60.60,163.33 L61.10,163.31 L61.60,163.28 L62.10,163.25 L62.60,163.22 L63.10,163.19 L63.60,163.16 L64.10,163.12 L64.60,163.09 L65.10,163.05 L65.60,163.01 L66.10,162.97 L66.60,162.93 L67.10,162.89 L67.60,162.85 L68.10,162.81 L68.60,162.76 L69.10,162.71 L69.60,162.66 L70.10,162.61 L70.60,162.56 L71.10,162.51 L71.60,162.45 L72.10,162.39 L72.60,162.34 L73.10,162.28 L73.60,162.21 L74.10,162.15 L74.60,162.08 L75.10,162.02 L75.60,161.95 L76.10,161.87 L76.60,161.80 L77.10,161.73 L77.60,161.65 L78.10,161.57 L78.60,161.49 L79.10,161.41 L79.60,161.32 L80.10,161.23 L80.60,161.14 L81.10,161.05 L81.60,160.96 L82.10,160.86 L82.60,160.76 L83.10,160.66 L83.60,160.56 L84.10,160.45 L84.60,160.34 L85.10,160.23 L85.60,160.12 L86.10,160.00 L86.60,159.88 L87.10,159.76 L87.60,159.64 L88.10,159.51 L88.60,159.38 L89.10,159.24 L89.60,159.10 L90.10,158.96 L90.60,158.81 L91.10,158.66 L91.60,158.50 L92.10,158.34 L92.60,158.18 L93.10,158.01 L93.60,157.83 L94.10,157.66 L94.60,157.47 L95.10,157.28 L95.60,157.09 L96.10,156.89 L96.60,156.68 L97.10,156.47 L97.60,156.25 L98.10,156.03 L98.60,155.80 L99.10,155.57 L99.60,155.32 L100.10,155.08 L100.60,154.82 L101.10,154.56 L101.60,154.29 L102.10,154.01 L102.60,153.73 L103.10,153.44 L103.60,153.14 L104.10,152.84 L104.60,152.52 L105.10,152.20 L105.60,151.88 L106.10,151.54 L106.60,151.19 L107.10,150.84 L107.60,150.48 L108.10,150.11 L108.60,149.73 L109.10,149.34 L109.60,148.93 L110.10,148.51 L110.60,148.08 L111.10,147.63 L111.60,147.15 L112.10,146.66 L112.60,146.13 L113.10,145.59 L113.60,145.01 L114.10,144.41 L114.60,143.77 L115.10,143.11 L115.60,142.40 L116.10,141.66 L116.60,140.88 L117.10,140.06 L117.60,139.21 L118.10,138.35 L118.60,137.47 L119.10,136.59 L119.60,135.73 L120.10,134.88 L120.60,134.07 L121.10,133.29 L121.60,132.56 L122.10,131.89 L122.60,131.29 L123.10,130.76 L123.60,130.29 L124.10,129.88 L124.60,129.52 L125.10,129.21 L125.60,128.94 L126.10,128.72 L126.60,128.53 L127.10,128.37 L127.60,128.24 L128.10,128.13 L128.60,128.04 L129.10,127.96 L129.60,127.88 L130.10,127.80 L130.60,127.69 L131.10,127.54 L131.60,127.34 L132.10,127.08 L132.60,126.74 L133.10,126.31 L133.60,125.81 L134.10,125.24 L134.60,124.64 L135.10,124.01 L135.60,123.37 L136.10,122.74 L136.60,122.13 L137.10,121.57 L137.60,121.06 L138.10,120.64 L138.60,120.31 L139.10,120.10 L139.60,120.01 L140.10,120.08 L140.60,120.30 L141.10,120.67 L141.60,121.16 L142.10,121.77 L142.60,122.47 L143.10,123.26 L143.60,124.12 L144.10,125.02 L144.60,125.96 L145.10,126.93 L145.60,127.89 L146.10,128.85 L146.60,129.78 L147.10,130.70 L147.60,131.59 L148.10,132.45 L148.60,133.29 L149.10,134.11 L149.60,134.90 L150.10,135.67 L150.60,136.41 L151.10,137.12 L151.60,137.81 L152.10,138.48 L152.60,139.11 L153.10,139.73 L153.60,140.31 L154.10,140.88 L154.60,141.42 L155.10,141.93 L155.60,142.43 L156.10,142.91 L156.60,143.37 L157.10,143.80 L157.60,144.22 L158.10,144.63 L158.60,145.02 L159.10,145.39 L159.60,145.75 L160.10,146.09 L160.60,146.43 L161.10,146.75 L161.60,147.06 L162.10,147.36 L162.60,147.65 L163.10,147.93 L163.60,148.21 L164.10,148.48 L164.60,148.74 L165.10,149.00 L165.60,149.25 L166.10,149.50 L166.60,149.74 L167.10,149.98 L167.60,150.21 L168.10,150.43 L168.60,150.65 L169.10,150.87 L169.60,151.08 L170.10,151.29 L170.60,151.49 L171.10,151.68 L171.60,151.88 L172.10,152.07 L172.60,152.25 L173.10,152.43 L173.60,152.60 L174.10,152.77 L174.60,152.94 L175.10,153.10 L175.60,153.26 L176.10,153.42 L176.60,153.57 L177.10,153.72 L177.60,153.86 L178.10,154.00 L178.60,154.14 L179.10,154.28 L179.60,154.41 L180.10,154.54 L180.60,154.66 L181.10,154.78 L181.60,154.90 L182.10,155.02 L182.60,155.14 L183.10,155.25 L183.60,155.36 L184.10,155.47 L184.60,155.57 L185.10,155.67 L185.60,155.77 L186.10,155.87 L186.60,155.97 L187.10,156.06 L187.60,156.16 L188.10,156.25 L188.60,156.34 L189.10,156.43 L189.60,156.51 L190.10,156.60 L190.60,156.68 L191.10,156.77 L191.60,156.85 L192.10,156.93 L192.60,157.01 L193.10,157.09 L193.60,157.17 L194.10,157.25 L194.60,157.32 L195.10,157.40 L195.60,157.48 L196.10,157.55 L196.60,157.63 L197.10,157.70 L197.60,157.78 L198.10,157.85 L198.60,157.92 L199.10,157.99 L199.60,158.07 L200.10,158.14 L200.60,158.21 L201.10,158.28 L201.60,158.35 L202.10,158.42 L202.60,158.49 L203.10,158.55 L203.60,158.62 L204.10,158.69 L204.60,158.75 L205.10,158.82 L205.60,158.89 L206.10,158.95 L206.60,159.01 L207.10,159.08 L207.60,159.14 L208.10,159.20 L208.60,159.26 L209.10,159.33 L209.60,159.39 L210.10,159.45 L210.60,159.51 L211.10,159.56 L211.60,159.62 L212.10,159.68 L212.60,159.74 L213.10,159.80 L213.60,159.85 L214.10,159.91 L214.60,159.96 L215.10,160.02 L215.60,160.07 L216.10,160.12 L216.60,160.18 L217.10,160.23 L217.60,160.28 L218.10,160.33 L218.60,160.38 L219.10,160.43 L219.60,160.48 L220.10,160.53 L220.60,160.58 L221.10,160.63 L221.60,160.68 L222.10,160.72 L222.60,160.77 L223.10,160.81 L223.60,160.86 L224.10,160.90 L224.60,160.95 L225.10,160.99 L225.60,161.04 L226.10,161.08 L226.60,161.12 L227.10,161.16 L227.60,161.20 L228.10,161.24 L228.60,161.28 L229.10,161.32 L229.60,161.36 L230.10,161.40 L230.60,161.44 L231.10,161.48 L231.60,161.52 L232.10,161.55 L232.60,161.59 L233.10,161.63 L233.60,161.66 L234.10,161.70 L234.60,161.73 L235.10,161.77 L235.60,161.80 L236.10,161.84 L236.60,161.87 L237.10,161.90 L237.60,161.94 L238.10,161.97 L238.60,162.00 L239.10,162.03 L239.60,162.06 L240.10,162.09 L240.60,162.13 L241.10,162.16 L241.60,162.19 L242.10,162.21 L242.60,162.24 L243.10,162.27 L243.60,162.30 L244.10,162.33 L244.60,162.36 L245.10,162.39 L245.60,162.41 L246.10,162.44 L246.60,162.47 L247.10,162.49 L247.60,162.52 L248.10,162.55 L248.60,162.57 L249.10,162.60 L249.60,162.62 L250.10,162.65 L250.60,162.67 L251.10,162.70 L251.60,162.72 L252.10,162.74 L252.60,162.77 L253.10,162.79 L253.60,162.82 L254.10,162.84 L254.60,162.86 L255.10,162.88 L255.60,162.91 L256.10,162.93 L256.60,162.95 L257.10,162.97 L257.60,163.00 L258.10,163.02 L258.60,163.04 L259.10,163.06 L259.60,163.08 L260.10,163.10 L260.60,163.12 L261.10,163.14 L261.60,163.16 L262.10,163.18 L262.60,163.21 L263.10,163.23 L263.60,163.25 L264.10,163.27 L264.60,163.29 L265.10,163.31 L265.60,163.33 L266.10,163.35 L266.60,163.36 L267.10,163.38 L267.60,163.40 L268.10,163.42 L268.60,163.44 L269.10,163.46 L269.60,163.48 L270.10,163.50 L270.60,163.52 L271.10,163.54 L271.60,163.56 L272.10,163.58 L272.60,163.60 L273.10,163.61 L273.60,163.63 L274.10,163.65 L274.60,163.67 L275.10,163.69 L275.60,163.71 L276.10,163.73 L276.60,163.75 L277.10,163.77 L277.60,163.79 L278.10,163.81 L278.60,163.82 L279.10,163.84 L279.60,163.86 L280.10,163.88 L280.60,163.90 L281.10,163.92 L281.60,163.94 L282.10,163.96 L282.60,163.98 L283.10,164.00 L283.60,164.02 L284.10,164.04 L284.60,164.06 L285.10,164.08 L285.60,164.10 L286.10,164.12 L286.60,164.14 L287.10,164.16 L287.60,164.18 L288.10,164.20 L288.60,164.23 L289.10,164.25 L289.60,164.27 L290.10,164.29 L290.60,164.31 L291.10,164.33 L291.60,164.36 L292.10,164.38 L292.60,164.40 L293.10,164.42 L293.60,164.43" stroke="#e1dc00"/>
<path d="M22.60,196.39 L23.10,196.38 L23.60,196.35 L24.10,196.32 L24.60,196.29 L25.10,196.26 L25.60,196.23 L26.10,196.20 L26.60,196.18 L27.10,196.15 L27.60,196.12 L28.10,196.10 L28.60,196.07 L29.10,196.04 L29.60,196.02 L30.10,196.00 L30.60,195.97 L31.10,195.95 L31.60,195.93 L32.10,195.90 L32.60,195.88 L33.10,195.86 L33.60,195.84 L34.10,195.82 L34.60,195.80 L35.10,195.78 L35.60,195.76 L36.10,195.74 L36.60,195.72 L37.10,195.70 L37.60,195.68 L38.10,195.66 L38.60,195.64 L39.10,195.62 L39.60,195.61 L40.10,195.59 L40.60,195.57 L41.10,195.55 L41.60,195.54 L42.10,195.52 L42.60,195.50 L43.10,195.48 L43.60,195.47 L44.10,195.45 L44.60,195.43 L45.10,195.42 L45.60,195.40 L46.10,195.38 L46.60,195.37 L47.10,195.35 L47.60,195.33 L48.10,195.32 L48.60,195.30 L49.10,195.28 L49.60,195.26 L50.10,195.25 L50.60,195.23 L51.10,195.21 L51.60,195.20 L52.10,195.18 L52.60,195.16 L53.10,195.14 L53.60,195.12 L54.10,195.10 L54.60,195.09 L55.10,195.07 L55.60,195.05 L56.10,195.03 L56.60,195.01 L57.10,194.99 L57.60,194.97 L58.10,194.95 L58.60,194.93 L59.10,194.90 L59.60,194.88 L60.10,194.86 L60.60,194.84 L61.10,194.81 L61.60,194.79 L62.10,194.77 L62.60,194.74 L63.10,194.72 L63.60,194.69 L64.10,194.67 L64.60,194.64 L65.10,194.61 L65.60,194.58 L66.10,194.56 L66.60,194.53 L67.10,194.50 L67.60,194.47 L68.10,194.44 L68.60,194.41 L69.10,194.38 L69.60,194.34 L70.10,194.31 L70.60,194.28 L71.10,194.24 L71.60,194.21 L72.10,194.17 L72.60,194.13 L73.10,194.10 L73.60,194.06 L74.10,194.02 L74.60,193.98 L75.10,193.94 L75.60,193.90 L76.10,193.85 L76.60,193.81 L77.10,193.77 L77.60,193.72 L78.10,193.68 L78.60,193.63 L79.10,193.58 L79.60,193.53 L80.10,193.48 L80.60,193.43 L81.10,193.38 L81.60,193.33 L82.10,193.27 L82.60,193.22 L83.10,193.16 L83.60,193.11 L84.10,193.05 L84.60,192.99 L85.10,192.93 L85.60,192.86 L86.10,192.80 L86.60,192.74 L87.10,192.67 L87.60,192.60 L88.10,192.53 L88.60,192.45 L89.10,192.38 L89.60,192.30 L90.10,192.22 L90.60,192.14 L91.10,192.05 L91.60,191.96 L92.10,191.87 L92.60,191.78 L93.10,191.68 L93.60,191.58 L94.10,191.48 L94.60,191.37 L95.10,191.26 L95.60,191.15 L96.10,191.03 L96.60,190.91 L97.10,190.78 L97.60,190.65 L98.10,190.52 L98.60,190.38 L99.10,190.24 L99.60,190.10 L100.10,189.95 L100.60,189.79 L101.10,189.63 L101.60,189.47 L102.10,189.30 L102.60,189.12 L103.10,188.94 L103.60,188.76 L104.10,188.57 L104.60,188.37 L105.10,188.17 L105.60,187.97 L106.10,187.76 L106.60,187.54 L107.10,187.31 L107.60,187.08 L108.10,186.85 L108.60,186.61 L109.10,186.36 L109.60,186.10 L110.10,185.84 L110.60,185.57 L111.10,185.30 L111.60,185.02 L112.10,184.73 L112.60,184.43 L113.10,184.13 L113.60,183.83 L114.10,183.53 L114.60,183.22 L115.10,182.92 L115.60,182.62 L116.10,182.33 L116.60,182.04 L117.10,181.73 L117.60,181.40 L118.10,181.02 L118.60,180.59 L119.10,180.10 L119.60,179.57 L120.10,179.01 L120.60,178.41 L121.10,177.79 L121.60,177.16 L122.10,176.51 L122.60,175.86 L123.10,175.21 L123.60,174.57 L124.10,173.95 L124.60,173.34 L125.10,172.77 L125.60,172.21 L126.10,171.67 L126.60,171.15 L127.10,170.65 L127.60,170.17 L128.10,169.69 L128.60,169.23 L129.10,168.78 L129.60,168.34 L130.10,167.91 L130.60,167.49 L131.10,167.06 L131.60,166.65 L132.10,166.23 L132.60,165.81 L133.10,165.39 L133.60,164.95 L134.10,164.49 L134.60,164.01 L135.10,163.50 L135.60,162.95 L136.10,162.36 L136.60,161.72 L137.10,161.04 L137.60,160.33 L138.10,159.61 L138.60,158.87 L139.10,158.14 L139.60,157.40 L140.10,156.68 L140.60,155.98 L141.10,155.31 L141.60,154.67 L142.10,154.07 L142.60,153.53 L143.10,153.04 L143.60,152.61 L144.10,152.26 L144.60,151.99 L145.10,151.80 L145.60,151.70 L146.10,151.70 L146.60,151.80 L147.10,152.01 L147.60,152.33 L148.10,152.77 L148.60,153.34 L149.10,154.00 L149.60,154.75 L150.10,155.57 L150.60,156.43 L151.10,157.35 L151.60,158.29 L152.10,159.26 L152.60,160.26 L153.10,161.26 L153.60,162.26 L154.10,163.26 L154.60,164.25 L155.10,165.21 L155.60,166.15 L156.10,167.04 L156.60,167.90 L157.10,168.71 L157.60,169.48 L158.10,170.21 L158.60,170.91 L159.10,171.57 L159.60,172.19 L160.10,172.78 L160.60,173.34 L161.10,173.87 L161.60,174.37 L162.10,174.85 L162.60,175.30 L163.10,175.73 L163.60,176.13 L164.10,176.52 L164.60,176.88 L165.10,177.23 L165.60,177.56 L166.10,177.88 L166.60,178.19 L167.10,178.49 L167.60,178.77 L168.10,179.05 L168.60,179.32 L169.10,179.59 L169.60,179.85 L170.10,180.10 L170.60,180.35 L171.10,180.59 L171.60,180.82 L172.10,181.05 L172.60,181.27 L173.10,181.49 L173.60,181.70 L174.10,181.91 L174.60,182.11 L175.10,182.31 L175.60,182.50 L176.10,182.69 L176.60,182.87 L177.10,183.05 L177.60,183.22 L178.10,183.39 L178.60,183.55 L179.10,183.71 L179.60,183.87 L180.10,184.02 L180.60,184.17 L181.10,184.32 L181.60,184.46 L182.10,184.59 L182.60,184.73 L183.10,184.86 L183.60,184.99 L184.10,185.11 L184.60,185.23 L185.10,185.35 L185.60,185.47 L186.10,185.58 L186.60,185.69 L187.10,185.80 L187.60,185.91 L188.10,186.01 L188.60,186.11 L189.10,186.21 L189.60,186.31 L190.10,186.41 L190.60,186.51 L191.10,186.60 L191.60,186.69 L192.10,186.78 L192.60,186.87 L193.10,186.96 L193.60,187.05 L194.10,187.14 L194.60,187.22 L195.10,187.31 L195.60,187.40 L196.10,187.48 L196.60,187.57 L197.10,187.65 L197.60,187.74 L198.10,187.82 L198.60,187.91 L199.10,187.99 L199.60,188.08 L200.10,188.17 L200.60,188.25 L201.10,188.34 L201.60,188.42 L202.10,188.51 L202.60,188.60 L203.10,188.68 L203.60,188.77 L204.10,188.85 L204.60,188.94 L205.10,189.03 L205.60,189.11 L206.10,189.20 L206.60,189.28 L207.10,189.37 L207.60,189.45 L208.10,189.54 L208.60,189.62 L209.10,189.71 L209.60,189.79 L210.10,189.88 L210.60,189.96 L211.10,190.04 L211.60,190.13 L212.10,190.21 L212.60,190.29 L213.10,190.37 L213.60,190.45 L214.10,190.53 L214.60,190.61 L215.10,190.69 L215.60,190.77 L216.10,190.85 L216.60,190.93 L217.10,191.00 L217.60,191.08 L218.10,191.15 L218.60,191.23 L219.10,191.30 L219.60,191.38 L220.10,191.45 L220.60,191.52 L221.10,191.59 L221.60,191.66 L222.10,191.73 L222.60,191.80 L223.10,191.86 L223.60,191.93 L224.10,192.00 L224.60,192.06 L225.10,192.12 L225.60,192.18 L226.10,192.25 L226.60,192.31 L227.10,192.36 L227.60,192.42 L228.10,192.48 L228.60,192.54 L229.10,192.59 L229.60,192.65 L230.10,192.70 L230.60,192.75 L231.10,192.80 L231.60,192.85 L232.10,192.90 L232.60,192.95 L233.10,193.00 L233.60,193.05 L234.10,193.09 L234.60,193.14 L235.10,193.18 L235.60,193.23 L236.10,193.27 L236.60,193.31 L237.10,193.35 L237.60,193.39 L238.10,193.43 L238.60,193.47 L239.10,193.51 L239.60,193.55 L240.10,193.58 L240.60,193.62 L241.10,193.66 L241.60,193.69 L242.10,193.73 L242.60,193.76 L243.10,193.79 L243.60,193.82 L244.10,193.86 L244.60,193.89 L245.10,193.92 L245.60,193.95 L246.10,193.98 L246.60,194.01 L247.10,194.03 L247.60,194.06 L248.10,194.09 L248.60,194.12 L249.10,194.14 L249.60,194.17 L250.10,194.19 L250.60,194.22 L251.10,194.24 L251.60,194.27 L252.10,194.29 L252.60,194.31 L253.10,194.34 L253.60,194.36 L254.10,194.38 L254.60,194.40 L255.10,194.42 L255.60,194.44 L256.10,194.46 L256.60,194.48 L257.10,194.50 L257.60,194.52 L258.10,194.54 L258.60,194.56 L259.10,194.58 L259.60,194.60 L260.10,194.62 L260.60,194.63 L261.10,194.65 L261.60,194.67 L262.10,194.69 L262.60,194.70 L263.10,194.72 L263.60,194.74 L264.10,194.75 L264.60,194.77 L265.10,194.79 L265.60,194.80 L266.10,194.82 L266.60,194.84 L267.10,194.85 L267.60,194.87 L268.10,194.88 L268.60,194.90 L269.10,194.92 L269.60,194.93 L270.10,194.95 L270.60,194.96 L271.10,194.98 L271.60,194.99 L272.10,195.01 L272.60,195.03 L273.10,195.04 L273.60,195.06 L274.10,195.07 L274.60,195.09 L275.10,195.11 L275.60,195.12 L276.10,195.14 L276.60,195.16 L277.10,195.17 L277.60,195.19 L278.10,195.21 L278.60,195.23 L279.10,195.24 L279.60,195.26 L280.10,195.28 L280.60,195.30 L281.10,195.32 L281.60,195.33 L282.10,195.35 L282.60,195.37 L283.10,195.39 L283.60,195.41 L284.10,195.43 L284.60,195.45 L285.10,195.47 L285.60,195.49 L286.10,195.52 L286.60,195.54 L287.10,195.56 L287.60,195.58 L288.10,195.61 L288.60,195.63 L289.10,195.65 L289.60,195.68 L290.10,195.70 L290.60,195.73 L291.10,195.75 L291.60,195.78 L292.10,195.81 L292.60,195.83 L293.10,195.86 L293.60,195.87" stroke="#ff7800"/>
<path d="M22.60,227.54 L23.10,227.54 L23.60,227.53 L24.10,227.53 L24.60,227.52 L25.10,227.51 L25.60,227.51 L26.10,227.50 L26.60,227.50 L27.10,227.49 L27.60,227.48 L28.10,227.48 L28.60,227.47 L29.10,227.46 L29.60,227.46 L30.10,227.45 L30.60,227.44 L31.10,227.43 L31.60,227.43 L32.10,227.42 L32.60,227.41 L33.10,227.40 L33.60,227.40 L34.10,227.39 L34.60,227.38 L35.10,227.37 L35.60,227.36 L36.10,227.36 L36.60,227.35 L37.10,227.34 L37.60,227.33 L38.10,227.32 L38.60,227.31 L39.10,227.30 L39.60,227.29 L40.10,227.28 L40.60,227.27 L41.10,227.26 L41.60,227.25 L42.10,227.24 L42.60,227.23 L43.10,227.22 L43.60,227.21 L44.10,227.20 L44.60,227.18 L45.10,227.17 L45.60,227.16 L46.10,227.15 L46.60,227.13 L47.10,227.12 L47.60,227.11 L48.10,227.09 L48.60,227.08 L49.10,227.07 L49.60,227.05 L50.10,227.04 L50.60,227.02 L51.10,227.01 L51.60,226.99 L52.10,226.97 L52.60,226.96 L53.10,226.94 L53.60,226.92 L54.10,226.91 L54.60,226.89 L55.10,226.87 L55.60,226.85 L56.10,226.84 L56.60,226.82 L57.10,226.80 L57.60,226.78 L58.10,226.76 L58.60,226.74 L59.10,226.72 L59.60,226.69 L60.10,226.67 L60.60,226.65 L61.10,226.63 L61.60,226.61 L62.10,226.58 L62.60,226.56 L63.10,226.53 L63.60,226.51 L64.10,226.48 L64.60,226.46 L65.10,226.43 L65.60,226.41 L66.10,226.38 L66.60,226.35 L67.10,226.33 L67.60,226.30 L68.10,226.27 L68.60,226.24 L69.10,226.21 L69.60,226.18 L70.10,226.15 L70.60,226.12 L71.10,226.09 L71.60,226.06 L72.10,226.02 L72.60,225.99 L73.10,225.96 L73.60,225.92 L74.10,225.89 L74.60,225.85 L75.10,225.82 L75.60,225.78 L76.10,225.74 L76.60,225.71 L77.10,225.67 L77.60,225.63 L78.10,225.59 L78.60,225.55 L79.10,225.51 L79.60,225.47 L80.10,225.43 L80.60,225.39 L81.10,225.34 L81.60,225.30 L82.10,225.26 L82.60,225.21 L83.10,225.17 L83.60,225.12 L84.10,225.07 L84.60,225.03 L85.10,224.98 L85.60,224.93 L86.10,224.88 L86.60,224.83 L87.10,224.78 L87.60,224.73 L88.10,224.68 L88.60,224.63 L89.10,224.57 L89.60,224.52 L90.10,224.47 L90.60,224.41 L91.10,224.36 L91.60,224.30 L92.10,224.24 L92.60,224.18 L93.10,224.13 L93.60,224.07 L94.10,224.01 L94.60,223.95 L95.10,223.88 L95.60,223.82 L96.10,223.76 L96.60,223.70 L97.10,223.63 L97.60,223.57 L98.10,223.50 L98.60,223.43 L99.10,223.36 L99.60,223.30 L100.10,223.23 L100.60,223.16 L101.10,223.09 L101.60,223.01 L102.10,222.94 L102.60,222.87 L103.10,222.79 L103.60,222.72 L104.10,222.64 L104.60,222.57 L105.10,222.49 L105.60,222.41 L106.10,222.33 L106.60,222.25 L107.10,222.17 L107.60,222.09 L108.10,222.01 L108.60,221.92 L109.10,221.84 L109.60,221.75 L110.10,221.67 L110.60,221.58 L111.10,221.49 L111.60,221.40 L112.10,221.31 L112.60,221.22 L113.10,221.13 L113.60,221.04 L114.10,220.95 L114.60,220.85 L115.10,220.76 L115.60,220.66 L116.10,220.56 L116.60,220.46 L117.10,220.37 L117.60,220.26 L118.10,220.16 L118.60,220.06 L119.10,219.96 L119.60,219.85 L120.10,219.75 L120.60,219.64 L121.10,219.54 L121.60,219.43 L122.10,219.32 L122.60,219.21 L123.10,219.10 L123.60,218.99 L124.10,218.87 L124.60,218.76 L125.10,218.64 L125.60,218.52 L126.10,218.40 L126.60,218.28 L127.10,218.16 L127.60,218.03 L128.10,217.90 L128.60,217.77 L129.10,217.63 L129.60,217.49 L130.10,217.35 L130.60,217.21 L131.10,217.06 L131.60,216.90 L132.10,216.75 L132.60,216.59 L133.10,216.42 L133.60,216.25 L134.10,216.08 L134.60,215.90 L135.10,215.71 L135.60,215.52 L136.10,215.33 L136.60,215.13 L137.10,214.92 L137.60,214.71 L138.10,214.49 L138.60,214.26 L139.10,214.03 L139.60,213.78 L140.10,213.53 L140.60,213.26 L141.10,212.97 L141.60,212.66 L142.10,212.34 L142.60,211.99 L143.10,211.62 L143.60,211.23 L144.10,210.80 L144.60,210.35 L145.10,209.86 L145.60,209.35 L146.10,208.79 L146.60,208.20 L147.10,207.57 L147.60,206.91 L148.10,206.22 L148.60,205.49 L149.10,204.74 L149.60,203.96 L150.10,203.15 L150.60,202.33 L151.10,201.48 L151.60,200.61 L152.10,199.73 L152.60,198.83 L153.10,197.91 L153.60,196.99 L154.10,196.06 L154.60,195.12 L155.10,194.17 L155.60,193.22 L156.10,192.27 L156.60,191.31 L157.10,190.35 L157.60,189.38 L158.10,188.43 L158.60,187.50 L159.10,186.62 L159.60,185.80 L160.10,185.07 L160.60,184.43 L161.10,183.91 L161.60,183.52 L162.10,183.26 L162.60,183.12 L163.10,183.08 L163.60,183.15 L164.10,183.32 L164.60,183.58 L165.10,183.92 L165.60,184.34 L166.10,184.83 L166.60,185.38 L167.10,185.99 L167.60,186.64 L168.10,187.34 L168.60,188.07 L169.10,188.83 L169.60,189.60 L170.10,190.40 L170.60,191.20 L171.10,192.00 L171.60,192.82 L172.10,193.64 L172.60,194.47 L173.10,195.30 L173.60,196.13 L174.10,196.97 L174.60,197.80 L175.10,198.64 L175.60,199.47 L176.10,200.30 L176.60,201.12 L177.10,201.94 L177.60,202.75 L178.10,203.55 L178.60,204.35 L179.10,205.13 L179.60,205.90 L180.10,206.66 L180.60,207.41 L181.10,208.13 L181.60,208.84 L182.10,209.53 L182.60,210.21 L183.10,210.86 L183.60,211.49 L184.10,212.09 L184.60,212.67 L185.10,213.22 L185.60,213.75 L186.10,214.25 L186.60,214.72 L187.10,215.17 L187.60,215.59 L188.10,216.00 L188.60,216.38 L189.10,216.74 L189.60,217.07 L190.10,217.39 L190.60,217.69 L191.10,217.97 L191.60,218.24 L192.10,218.49 L192.60,218.72 L193.10,218.94 L193.60,219.15 L194.10,219.34 L194.60,219.52 L195.10,219.69 L195.60,219.85 L196.10,220.00 L196.60,220.14 L197.10,220.27 L197.60,220.40 L198.10,220.52 L198.60,220.64 L199.10,220.75 L199.60,220.86 L200.10,220.97 L200.60,221.07 L201.10,221.18 L201.60,221.28 L202.10,221.38 L202.60,221.48 L203.10,221.57 L203.60,221.67 L204.10,221.76 L204.60,221.85 L205.10,221.94 L205.60,222.03 L206.10,222.12 L206.60,222.20 L207.10,222.29 L207.60,222.37 L208.10,222.45 L208.60,222.53 L209.10,222.61 L209.60,222.68 L210.10,222.76 L210.60,222.83 L211.10,222.90 L211.60,222.97 L212.10,223.04 L212.60,223.11 L213.10,223.18 L213.60,223.24 L214.10,223.31 L214.60,223.37 L215.10,223.43 L215.60,223.49 L216.10,223.55 L216.60,223.61 L217.10,223.67 L217.60,223.73 L218.10,223.78 L218.60,223.83 L219.10,223.89 L219.60,223.94 L220.10,223.99 L220.60,224.04 L221.10,224.09 L221.60,224.14 L222.10,224.18 L222.60,224.23 L223.10,224.27 L223.60,224.32 L224.10,224.36 L224.60,224.40 L225.10,224.44 L225.60,224.48 L226.10,224.52 L226.60,224.56 L227.10,224.60 L227.60,224.64 L228.10,224.67 L228.60,224.71 L229.10,224.74 L229.60,224.78 L230.10,224.81 L230.60,224.84 L231.10,224.88 L231.60,224.91 L232.10,224.94 L232.60,224.97 L233.10,225.00 L233.60,225.03 L234.10,225.06 L234.60,225.08 L235.10,225.11 L235.60,225.14 L236.10,225.16 L236.60,225.19 L237.10,225.21 L237.60,225.23 L238.10,225.26 L238.60,225.28 L239.10,225.30 L239.60,225.33 L240.10,225.35 L240.60,225.37 L241.10,225.39 L241.60,225.41 L242.10,225.43 L242.60,225.45 L243.10,225.47 L243.60,225.48 L244.10,225.50 L244.60,225.52 L245.10,225.54 L245.60,225.55 L246.10,225.57 L246.60,225.59 L247.10,225.60 L247.60,225.62 L248.10,225.63 L248.60,225.65 L249.10,225.66 L249.60,225.68 L250.10,225.69 L250.60,225.70 L251.10,225.72 L251.60,225.73 L252.10,225.75 L252.60,225.76 L253.10,225.77 L253.60,225.78 L254.10,225.80 L254.60,225.81 L255.10,225.82 L255.60,225.83 L256.10,225.85 L256.60,225.86 L257.10,225.87 L257.60,225.88 L258.10,225.89 L258.60,225.91 L259.10,225.92 L259.60,225.93 L260.10,225.94 L260.60,225.95 L261.10,225.96 L261.60,225.98 L262.10,225.99 L262.60,226.00 L263.10,226.01 L263.60,226.02 L264.10,226.04 L264.60,226.05 L265.10,226.06 L265.60,226.07 L266.10,226.08 L266.60,226.10 L267.10,226.11 L267.60,226.12 L268.10,226.14 L268.60,226.15 L269.10,226.16 L269.60,226.18 L270.10,226.19 L270.60,226.21 L271.10,226.22 L271.60,226.24 L272.10,226.25 L272.60,226.27 L273.10,226.28 L273.60,226.30 L274.10,226.31 L274.60,226.33 L275.10,226.35 L275.60,226.37 L276.10,226.38 L276.60,226.40 L277.10,226.42 L277.60,226.44 L278.10,226.46 L278.60,226.48 L279.10,226.50 L279.60,226.52 L280.10,226.54 L280.60,226.56 L281.10,226.58 L281.60,226.61 L282.10,226.63 L282.60,226.65 L283.10,226.68 L283.60,226.70 L284.10,226.73 L284.60,226.76 L285.10,226.78 L285.60,226.81 L286.10,226.84 L286.60,226.87 L287.10,226.89 L287.60,226.92 L288.10,226.95 L288.60,226.99 L289.10,227.02 L289.60,227.05 L290.10,227.08 L290.60,227.12 L291.10,227.15 L291.60,227.19 L292.10,227.22 L292.60,227.26 L293.10,227.30 L293.60,227.31" stroke="#ff0000"/>
</g>
<path d="M144.2,24.6 C144.6,23.1 146.1,22.8 146.8,25 L148.7,31.8 C149.2,33.5 150.4,34.1 151.6,32.8" stroke="#000" stroke-width="1.15" fill="none"/>
<path d="M147.3,27.6 L144.4,33.9" stroke="#000" stroke-width="1.7" fill="none" stroke-linecap="round"/>
<text x="151.2" y="38.2" font-size="10.75">exciton</text>
<text x="249.6" y="62.7" font-size="14.2" fill="#0c0c82">PE 11</text>
<text x="249.6" y="92.4" font-size="14.2" fill="#10807f">PE 9</text>
<text x="249.6" y="124.0" font-size="14.2" fill="#6aa214">PE 7</text>
<text x="249.6" y="155.8" font-size="14.2" fill="#e8e070">PE 5</text>
<text x="249.6" y="185.7" font-size="14.2" fill="#ff7f0a">PE 3</text>
<text x="249.6" y="217.0" font-size="14.2" fill="#c8000f">PE 1</text>
<text x="158.8" y="271" font-size="15.15" text-anchor="middle">Wavelength (nm)</text>
<text transform="translate(11.3,119.5) rotate(-90)" font-size="15.1" text-anchor="middle">Scattering intensity (a.u.)</text>
<text x="0" y="0" font-size="21.5" transform="translate(0.5,15.7) scale(0.91,1)">a</text>
<text x="330.6" y="15.7" font-size="21">b</text>
<rect x="395.15" y="13.50" width="277.75" height="214.40" fill="none" stroke="#1a1a1a" stroke-width="1.8" stroke-linejoin="round"/>
<path d="M395.15,19.65 H391.55 M395.15,51.70 H391.55 M395.15,83.75 H391.55 M395.15,115.80 H391.55 M395.15,147.85 H391.55 M395.15,179.90 H391.55 M395.15,211.95 H391.55 M420.40,227.90 V231.70 M470.90,227.90 V231.70 M521.40,227.90 V231.70 M571.90,227.90 V231.70 M622.40,227.90 V231.70 M672.90,227.90 V231.70" stroke="#1a1a1a" stroke-width="1.6" stroke-linecap="round" fill="none"/>
<g clip-path="url(#cr)" fill="none" stroke-width="1.8">
<path d="M395.15,112.74 L397.67,112.66 L400.20,112.57 L402.72,112.49 L405.25,112.40 L407.77,112.30 L410.30,112.20 L412.82,112.10 L415.35,111.99 L417.88,111.89 L420.40,111.77 L422.92,111.65 L425.45,111.53 L427.97,111.40 L430.50,111.27 L433.02,111.12 L435.55,110.98 L438.07,110.83 L440.60,110.67 L443.12,110.50 L445.65,110.33 L448.17,110.14 L450.70,109.95 L453.22,109.75 L455.75,109.54 L458.27,109.32 L460.80,109.09 L463.32,108.84 L465.85,108.59 L468.38,108.32 L470.90,108.04 L473.42,107.74 L475.95,107.42 L478.47,107.09 L481.00,106.74 L483.52,106.37 L486.05,105.98 L488.57,105.57 L491.10,105.14 L493.62,104.68 L496.15,104.20 L498.67,103.70 L501.20,103.16 L503.72,102.60 L506.25,102.01 L508.77,101.39 L511.30,100.74 L513.82,100.06 L516.35,99.34 L518.88,98.60 L521.40,97.82 L523.92,97.01 L526.45,96.16 L528.97,95.28 L531.50,94.37 L534.02,93.43 L536.55,92.46 L539.08,91.46 L541.60,90.43 L544.12,89.37 L546.65,88.28 L549.17,87.17 L551.70,86.03 L554.22,84.87 L556.75,83.69 L559.27,82.48 L561.80,81.26 L564.33,80.01 L566.85,78.75 L569.38,77.47 L571.90,76.17 L574.42,74.86 L576.95,73.53 L579.47,72.19 L582.00,70.84 L584.52,69.47 L587.05,68.10 L589.58,66.71 L592.10,65.31 L594.62,63.91 L597.15,62.49 L599.67,61.07 L602.20,59.64 L604.72,58.20 L607.25,56.75 L609.77,55.30 L612.30,53.84 L614.83,52.38 L617.35,50.91 L619.88,49.43 L622.40,47.96 L624.92,46.47 L627.45,44.98 L629.97,43.49 L632.50,41.99 L635.02,40.49 L637.55,38.99 L640.08,37.48 L642.60,35.97 L645.12,34.46 L647.65,32.94 L650.17,31.42 L652.70,29.90 L655.22,28.37 L657.75,26.85 L660.27,25.32 L662.80,23.78 L665.33,22.25 L667.85,20.71 L670.38,19.18 L672.90,17.64" stroke="#1428c8"/>
<path d="M395.15,201.93 L397.67,200.41 L400.20,198.90 L402.72,197.38 L405.25,195.88 L407.77,194.37 L410.30,192.87 L412.82,191.37 L415.35,189.88 L417.88,188.39 L420.40,186.90 L422.92,185.42 L425.45,183.95 L427.97,182.48 L430.50,181.01 L433.02,179.55 L435.55,178.10 L438.07,176.65 L440.60,175.21 L443.12,173.78 L445.65,172.35 L448.17,170.93 L450.70,169.53 L453.22,168.13 L455.75,166.74 L458.27,165.36 L460.80,163.99 L463.32,162.63 L465.85,161.29 L468.38,159.96 L470.90,158.64 L473.42,157.34 L475.95,156.06 L478.47,154.79 L481.00,153.54 L483.52,152.31 L486.05,151.10 L488.57,149.91 L491.10,148.74 L493.62,147.60 L496.15,146.48 L498.67,145.39 L501.20,144.32 L503.72,143.28 L506.25,142.27 L508.77,141.29 L511.30,140.35 L513.82,139.43 L516.35,138.54 L518.88,137.69 L521.40,136.87 L523.92,136.08 L526.45,135.33 L528.97,134.60 L531.50,133.91 L534.02,133.26 L536.55,132.63 L539.08,132.03 L541.60,131.46 L544.12,130.92 L546.65,130.41 L549.17,129.92 L551.70,129.46 L554.22,129.02 L556.75,128.60 L559.27,128.21 L561.80,127.84 L564.33,127.48 L566.85,127.15 L569.38,126.83 L571.90,126.53 L574.42,126.24 L576.95,125.96 L579.47,125.71 L582.00,125.46 L584.52,125.22 L587.05,125.00 L589.58,124.79 L592.10,124.58 L594.62,124.39 L597.15,124.21 L599.67,124.03 L602.20,123.86 L604.72,123.70 L607.25,123.55 L609.77,123.40 L612.30,123.26 L614.83,123.12 L617.35,122.99 L619.88,122.87 L622.40,122.75 L624.92,122.63 L627.45,122.52 L629.97,122.41 L632.50,122.31 L635.02,122.21 L637.55,122.12 L640.08,122.02 L642.60,121.93 L645.12,121.85 L647.65,121.77 L650.17,121.69 L652.70,121.61 L655.22,121.53 L657.75,121.46 L660.27,121.39 L662.80,121.32 L665.33,121.26 L667.85,121.19 L670.38,121.13 L672.90,121.07" stroke="#ff0000"/>
</g>
<text x="384.6" y="24.75" font-size="14.5" text-anchor="end">2.05</text>
<text x="384.6" y="56.80" font-size="14.5" text-anchor="end">2.00</text>
<text x="384.6" y="88.85" font-size="14.5" text-anchor="end">1.95</text>
<text x="384.6" y="120.90" font-size="14.5" text-anchor="end">1.90</text>
<text x="384.6" y="152.95" font-size="14.5" text-anchor="end">1.85</text>
<text x="384.6" y="185.00" font-size="14.5" text-anchor="end">1.80</text>
<text x="384.6" y="217.05" font-size="14.5" text-anchor="end">1.75</text>
<text x="420.40" y="249.2" font-size="14.5" text-anchor="middle">-100</text>
<text x="470.90" y="249.2" font-size="14.5" text-anchor="middle">-50</text>
<text x="521.40" y="249.2" font-size="14.5" text-anchor="middle">0</text>
<text x="571.90" y="249.2" font-size="14.5" text-anchor="middle">50</text>
<text x="622.40" y="249.2" font-size="14.5" text-anchor="middle">100</text>
<text x="672.90" y="249.2" font-size="14.5" text-anchor="middle">150</text>
<text x="534" y="270.9" font-size="14.7" text-anchor="middle">Detuning(meV)</text>
<text transform="translate(343.7,120.3) rotate(-90)" font-size="15.1" text-anchor="middle">Energy(eV)</text>
<rect x="446.10" y="99.20" width="7.8" height="7.8" fill="#0a14b4"/>
<rect x="481.30" y="95.10" width="7.8" height="7.8" fill="#0a14b4"/>
<rect x="529.10" y="90.00" width="7.8" height="7.8" fill="#0a14b4"/>
<rect x="564.50" y="76.80" width="7.8" height="7.8" fill="#0a14b4"/>
<rect x="614.00" y="60.00" width="7.8" height="7.8" fill="#0a14b4"/>
<circle cx="450.00" cy="159.50" r="4.4" fill="#ff0000"/>
<circle cx="485.30" cy="145.50" r="4.4" fill="#ff0000"/>
<circle cx="533.00" cy="137.30" r="4.4" fill="#ff0000"/>
<circle cx="568.20" cy="132.00" r="4.4" fill="#ff0000"/>
<circle cx="617.60" cy="129.00" r="4.4" fill="#ff0000"/>
<line x1="521.7" y1="101" x2="521.7" y2="131" stroke="#000" stroke-width="2.0"/>
<path d="M521.7,98.2 L524.7,103.6 L521.7,102.6 L518.7,103.6 Z M521.7,134.1 L524.7,128.4 L521.7,129.4 L518.7,128.4 Z" fill="#000" stroke="#000" stroke-width="0.6" stroke-linejoin="round"/>
<text x="528.5" y="119.7" font-size="15"><tspan style="font-family:'Liberation Serif',serif;font-style:italic;font-weight:normal">&#937;</tspan> = 62 meV</text>
</svg>
</body></html>
